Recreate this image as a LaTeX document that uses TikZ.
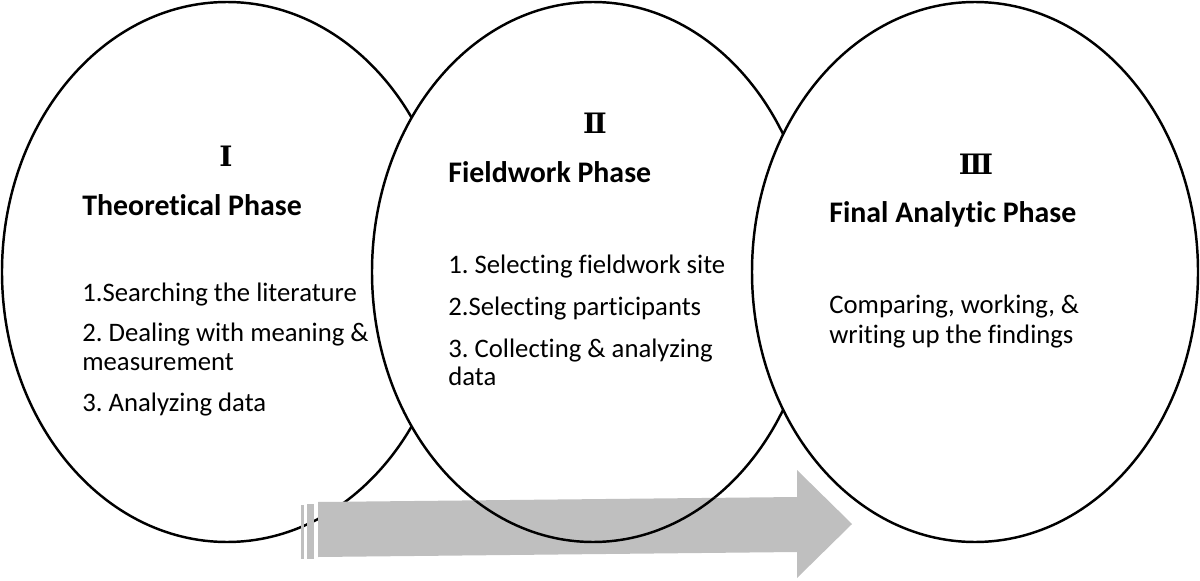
\documentclass[tikz,border=0pt]{standalone}
\usepackage{fontspec}
\setmainfont[Ligatures={NoCommon}]{Carlito}
\newfontfamily\romfont{DejaVu Serif}
\definecolor{arrowgray}{RGB}{191,191,191}
\frenchspacing

\tikzset{
	phase/.style = { draw = black, line width = 1.4pt, fill = white },
	numeral/.style = { inner sep = 0pt, font = \romfont\bfseries\fontsize{16}{18}\selectfont },
	title/.style = { anchor = base west, inner sep = 0pt, font = \bfseries\fontsize{17}{20}\selectfont },
	item/.style = { anchor = base west, inner sep = 0pt, font = \fontsize{15.2}{18}\selectfont },
}

% контур стрелки
\newcommand{\flowarrow}{( 318, 502 ) -- ( 797, 497 ) -- ( 797, 470 ) -- ( 852, 524 ) -- ( 797, 578 ) -- ( 797, 552 ) -- ( 318, 557 ) -- cycle}

\begin{document}
\begin{tikzpicture}[x=0.02cm, y=-0.02cm]
		\useasboundingbox ( 0, 0 ) rectangle ( 1200, 581 );

		% фазы
		\draw [phase] ( 227, 272 ) ellipse ( 225 and 270 );
		\draw [phase] ( 593, 272 ) ellipse ( 221 and 270 );
		\draw [phase] ( 975, 272 ) ellipse ( 223 and 270 );

		% стрелка
		\fill [arrowgray] \flowarrow;
		\fill [arrowgray] ( 301, 505 ) rectangle ( 304, 559 );
		\fill [arrowgray] ( 307, 504 ) rectangle ( 314, 559 );
		\begin{scope}
			\clip \flowarrow;
			\draw [line width = 1.4pt] ( 593, 272 ) ellipse ( 221 and 270 );
		\end{scope}

		% фаза I
		\node [numeral] (numI) at ( 226, 156 ) {Ⅰ};
		\node [title] (titleI) at ( 82, 215 ) {Theoretical Phase};
		\node [item] (itemIa) at ( 82, 301 ) {1.Searching the literature};
		\node [item] (itemIb) at ( 82, 341 ) {2. Dealing with meaning \&};
		\node [item] (itemIbb) at ( 82, 370 ) {measurement};
		\node [item] (itemIc) at ( 82, 411 ) {3. Analyzing data};

		% фаза II
		\node [numeral] (numII) at ( 595, 123 ) {Ⅱ};
		\node [title] (titleII) at ( 448, 182 ) {Fieldwork Phase};
		\node [item] (itemIIa) at ( 448, 273 ) {1. Selecting fieldwork site};
		\node [item] (itemIIb) at ( 448, 315 ) {2.Selecting participants};
		\node [item] (itemIIc) at ( 448, 357 ) {3. Collecting \& analyzing};
		\node [item] (itemIIcc) at ( 448, 385 ) {data};

		% фаза III
		\node [numeral] (numIII) at ( 976, 164 ) {Ⅲ};
		\node [title] (titleIII) at ( 829, 222 ) {Final Analytic Phase};
		\node [item] (itemIIIa) at ( 829, 313 ) {Comparing, working, \&};
		\node [item] (itemIIIb) at ( 829, 343 ) {writing up the findings};
	\end{tikzpicture}
\end{document}
